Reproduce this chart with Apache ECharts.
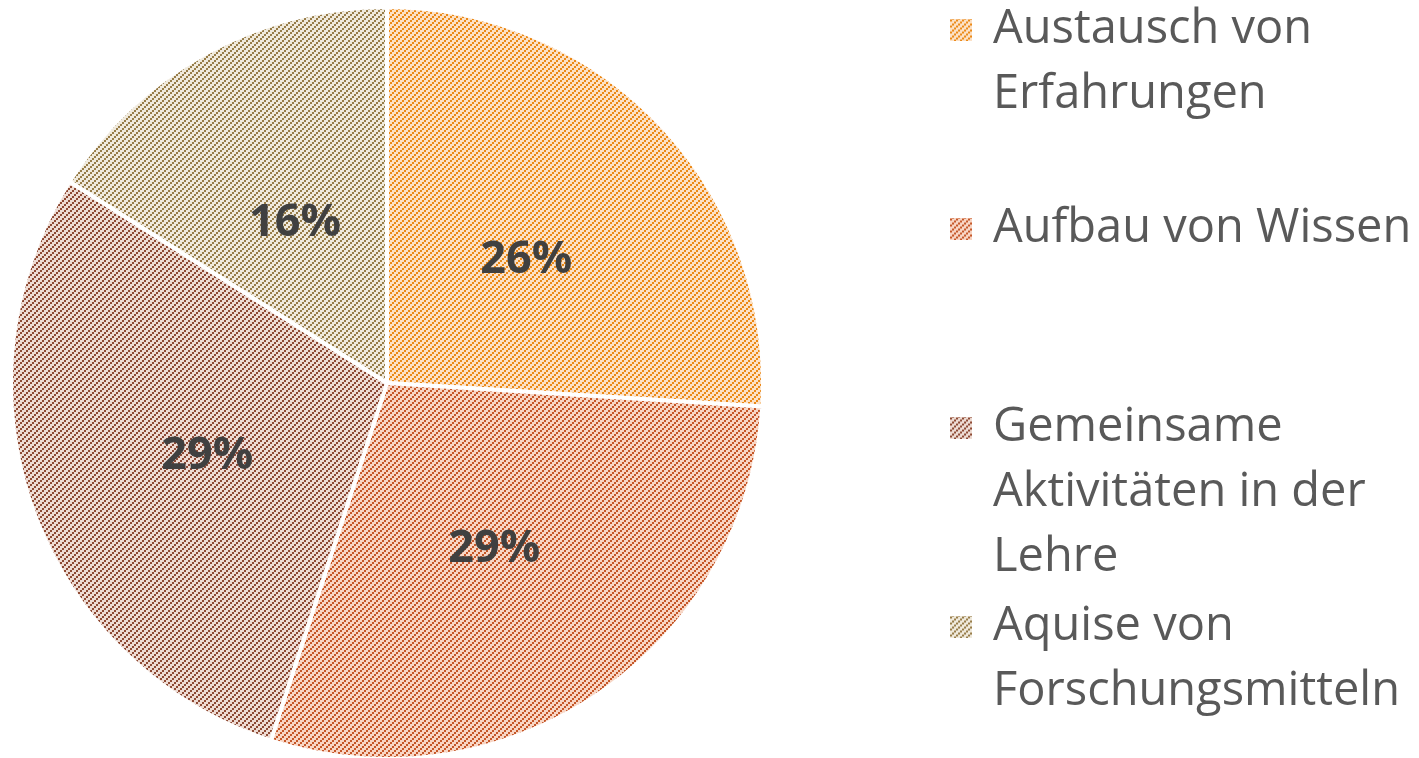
<!DOCTYPE html>
<html>
<head>
<meta charset="utf-8">
<title>pie</title>
<script src="https://cdn.jsdelivr.net/npm/echarts@6/dist/echarts.min.js"></script>
<style>
  html, body { margin: 0; padding: 0; background: #fff; }
  #chart { width: 1419px; height: 758px; }
</style>
</head>
<body>
<div id="chart"></div>
<script>
// 数据
const categories = ['Austausch von\nErfahrungen', 'Aufbau von Wissen', 'Gemeinsame\nAktivitäten in der\nLehre', 'Aquise von\nForschungsmitteln']
const values = [26, 29, 29, 16]

// 斜线填充 (背景色, 线色)
const hatchColors = [
  ['#fce1c6', '#eb8916'],
  ['#f8d6c5', '#c55728'],
  ['#eedcd4', '#8d4933'],
  ['#f0eadd', '#977c48']
]

function hatch (bg, fg) {
  const c = document.createElement('canvas')
  c.width = 6
  c.height = 6
  const ctx = c.getContext('2d')
  ctx.fillStyle = bg
  ctx.fillRect(0, 0, 6, 6)
  ctx.fillStyle = fg
  for (let i = 0; i < 3; i++) {
    for (let j = 0; j < 3; j++) {
      if ((i + j) % 3 === 2) ctx.fillRect(i * 2, j * 2, 2, 2)
    }
  }
  return { image: c, repeat: 'repeat' }
}

const lineH = 65
const iconSize = 22
const firstLineY = [30, 229, 428, 627]

// 每个图例单独放, 图标对齐第一行 (图标路径高度 = 文字块高度)
const legends = categories.map((name, i) => {
  const n = name.split('\n').length
  const h = n * lineH
  const a = (lineH - iconSize) / 2
  const b = a + iconSize
  return {
    data: [name],
    orient: 'vertical',
    left: 950,
    top: firstLineY[i] - lineH / 2,
    padding: 0,
    itemWidth: iconSize,
    itemHeight: h,
    selectedMode: false,
    icon: `path://M0,0L0,0M0,${a}L${iconSize},${a}L${iconSize},${b}L0,${b}ZM0,${h}L0,${h}`,
    itemStyle: { borderWidth: 0 },
    textStyle: {
      fontFamily: 'Open Sans',
      fontSize: 47,
      lineHeight: lineH,
      color: '#595959',
      padding: [0, 0, 0, 16]
    }
  }
})

const chart = echarts.init(document.getElementById('chart'))
const option = {
  animation: false,
  legend: legends,
  series: [
    {
      type: 'pie',
      center: [387, 383],
      radius: 376,
      startAngle: 90,
      clockwise: true,
      emphasis: { disabled: true },
      itemStyle: {
        borderColor: '#fff',
        borderWidth: 4
      },
      label: {
        show: true,
        position: 'inside',
        formatter: '{c}%',
        fontFamily: 'Open Sans',
        fontSize: 45,
        fontWeight: 'bold',
        color: '#404040',
        offset: [0, 8]
      },
      labelLine: { show: false },
      data: categories.map((name, i) => ({
        name: name,
        value: values[i],
        itemStyle: { color: hatch(hatchColors[i][0], hatchColors[i][1]) }
      }))
    }
  ]
}
chart.setOption(option)
</script>
</body>
</html>
